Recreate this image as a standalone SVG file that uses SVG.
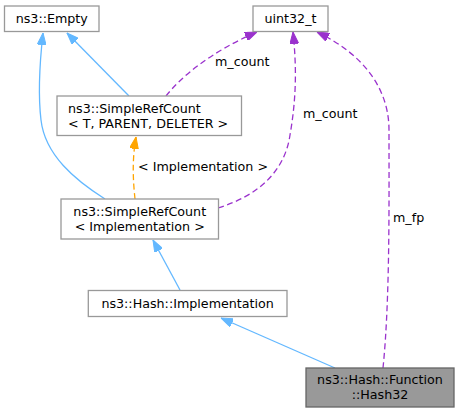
<svg xmlns="http://www.w3.org/2000/svg" width="460" height="413" viewBox="0 0 460 413">
<style>
  .box { fill: #ffffff; stroke: #999999; stroke-width: 1.3; }
  .cur { fill: #999999; stroke: #666666; stroke-width: 1.3; }
  text { font-family: "DejaVu Sans", "Liberation Sans", sans-serif; font-size: 12.7px; fill: #000000; }
  .c { text-anchor: middle; }
  .inh { fill: none; stroke: #63b8ff; stroke-width: 1.3; }
  .use { fill: none; stroke: #9a32cd; stroke-width: 1.3; stroke-dasharray: 6,3.5; }
  .tpl { fill: none; stroke: #ffa500; stroke-width: 1.3; stroke-dasharray: 6,3.5; }
</style>
<defs>
  <marker id="ab" viewBox="0 0 12 9" refX="12" refY="4.5" markerWidth="12" markerHeight="9" markerUnits="userSpaceOnUse" orient="auto">
    <path d="M0,0 L12,4.5 L0,9 z" fill="#63b8ff" stroke="#63b8ff"/>
  </marker>
  <marker id="ap" viewBox="0 0 12 9" refX="12" refY="4.5" markerWidth="12" markerHeight="9" markerUnits="userSpaceOnUse" orient="auto">
    <path d="M0,0 L12,4.5 L0,9 z" fill="#9a32cd" stroke="#9a32cd"/>
  </marker>
  <marker id="ao" viewBox="0 0 12 9" refX="12" refY="4.5" markerWidth="12" markerHeight="9" markerUnits="userSpaceOnUse" orient="auto">
    <path d="M0,0 L12,4.5 L0,9 z" fill="#ffa500" stroke="#ffa500"/>
  </marker>
</defs>
<g id="edges">
  <path class="inh" d="M129,96 L67,33" marker-end="url(#ab)"/>
  <path class="inh" d="M105,199 C75,180 45,155 41,120 C38,95 40,60 43,33" marker-end="url(#ab)"/>
  <path class="tpl" d="M135,199 C133,180 132,160 136,137" marker-end="url(#ao)"/>
  <path class="inh" d="M180,290 L153,240" marker-end="url(#ab)"/>
  <path class="inh" d="M335,368 L221,318" marker-end="url(#ab)"/>
  <path class="use" d="M166,96 C180,78 210,52 257,32" marker-end="url(#ap)"/>
  <path class="use" d="M218,208 C260,195 285,170 290,135 C296,100 297,70 293,32" marker-end="url(#ap)"/>
  <path class="use" d="M383,368 C390,300 389,200 389,130 C389,90 365,55 317,32" marker-end="url(#ap)"/>
  <text x="215" y="66">m_count</text>
  <text x="303" y="118">m_count</text>
  <text x="138" y="171">&lt; Implementation &gt;</text>
  <text x="393" y="222">m_fp</text>
</g>
<g id="n_empty">
  <rect class="box" x="4.5" y="6" width="94.5" height="25.5"/>
  <text class="c" x="51.75" y="22.5">ns3::Empty</text>
</g>
<g id="n_uint32">
  <rect class="box" x="253" y="6" width="75" height="25.5"/>
  <text class="c" x="290.5" y="22.5">uint32_t</text>
</g>
<g id="n_src_t">
  <rect class="box" x="57" y="96" width="184.5" height="39.5"/>
  <text x="68" y="112.5">ns3::SimpleRefCount</text>
  <text x="68" y="127.5">&lt; T, PARENT, DELETER &gt;</text>
</g>
<g id="n_src_impl">
  <rect class="box" x="61" y="199" width="157.5" height="40"/>
  <text class="c" x="139.75" y="216">ns3::SimpleRefCount</text>
  <text class="c" x="139.75" y="231">&lt; Implementation &gt;</text>
</g>
<g id="n_hash_impl">
  <rect class="box" x="88.3" y="290.5" width="198.7" height="26"/>
  <text class="c" x="187.65" y="307.5">ns3::Hash::Implementation</text>
</g>
<g id="n_hash32">
  <rect class="cur" x="306" y="368" width="148" height="39"/>
  <text class="c" x="380" y="384">ns3::Hash::Function</text>
  <text class="c" x="380" y="399">::Hash32</text>
</g>
</svg>
